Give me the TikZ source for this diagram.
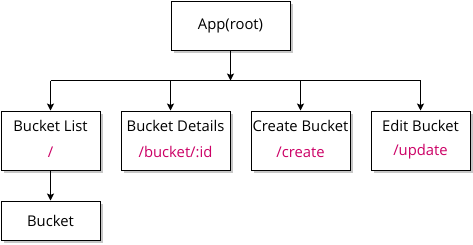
\documentclass[tikz,border=0pt]{standalone}
\usepackage{fontspec}
\setmainfont{Open Sans}
\usetikzlibrary{arrows.meta,shadows}
\definecolor{route}{HTML}{CC0066}
\tikzset{
  box/.style={draw=black, line width=1pt, fill=white, rectangle, inner sep=0pt,
    drop shadow={shadow xshift=2.5pt, shadow yshift=-2.5pt, fill=black!22, opacity=1}},
  title/.style={font=\fontsize{14.8}{17}\selectfont, text=black, inner sep=0pt},
  path/.style={font=\fontsize{14.8}{17}\selectfont, text=route, inner sep=0pt},
  conn/.style={line width=1pt, -{Stealth[length=7pt,width=7pt,inset=1.5pt]}},
  wire/.style={line width=1pt}
}
\begin{document}
\begin{tikzpicture}[x=1pt,y=-1pt]
  \useasboundingbox (0,0) rectangle (473,244);
  % boxes
  \node[box, minimum width=119pt, minimum height=49pt] (app) at (230.5,25.5) {};
  \node[box, minimum width=99pt, minimum height=59pt] (list) at (50.5,140.5) {};
  \node[box, minimum width=109pt, minimum height=59pt] (details) at (175.5,140.5) {};
  \node[box, minimum width=99pt, minimum height=59pt] (create) at (300.5,140.5) {};
  \node[box, minimum width=99pt, minimum height=59pt] (edit) at (420.5,140.5) {};
  \node[box, minimum width=99pt, minimum height=39pt] (bucket) at (50.5,220.5) {};
  % labels
  \node[title] (appT) at (230.5,25.5) {App(root)};
  \node[title] (listT) at (50.5,126) {Bucket List};
  \node[path] (listP) at (50.5,152) {/};
  \node[title] (detailsT) at (175.5,126) {Bucket Details};
  \node[path] (detailsP) at (175.5,152) {/bucket/:id};
  \node[title] (createT) at (300.5,126) {Create Bucket};
  \node[path] (createP) at (300.5,152) {/create};
  \node[title] (editT) at (420.5,126) {Edit Bucket};
  \node[path] (editP) at (420.5,152) {/update};
  \node[title] (bucketT) at (50.5,220.5) {Bucket};
  % connectors
  \coordinate (hub) at (230.5,80.5);
  \coordinate (hubL) at (50.5,80.5);
  \coordinate (hubR) at (420.5,80.5);
  \coordinate (detailsIn) at ([xshift=-5pt]details.north);
  \draw[conn] (app.south) -- (hub);
  \draw[wire] (hubL) -- (hubR);
  \draw[conn] (hubL) -- (list.north);
  \draw[conn] (detailsIn |- hub) -- (detailsIn);
  \draw[conn] (create.north |- hub) -- (create.north);
  \draw[conn] (hubR) -- (edit.north);
  \draw[conn] (list.south) -- (bucket.north);
\end{tikzpicture}
\end{document}
